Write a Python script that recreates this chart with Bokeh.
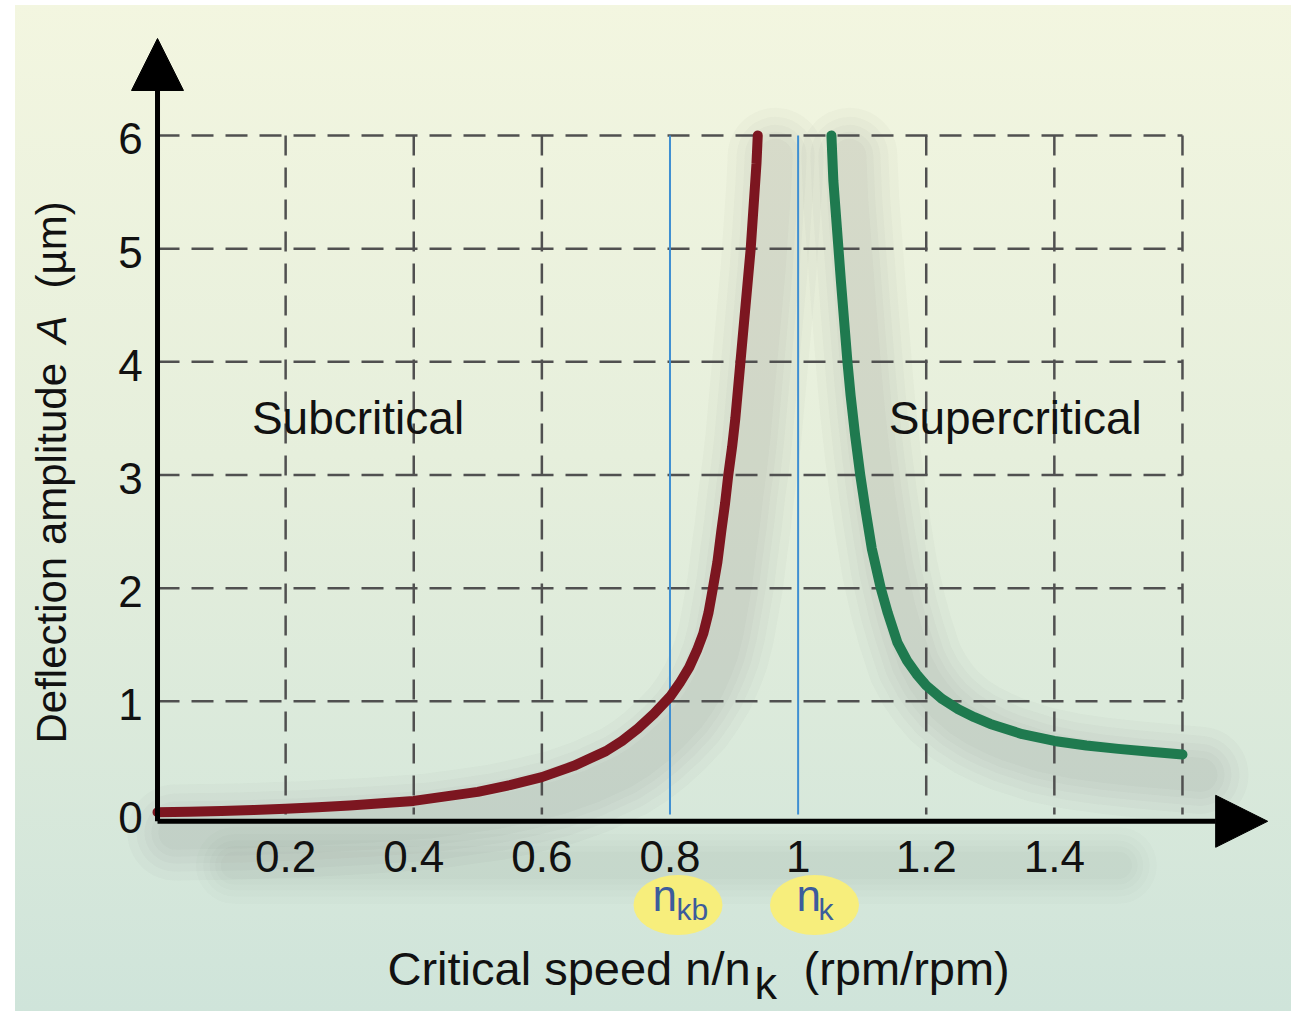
import numpy as np
from bokeh.plotting import figure
from bokeh.models import Arrow, NormalHead, Range1d
from bokeh.core.properties import value
from bokeh.embed import file_html
from bokeh.resources import INLINE

# ---------------- data ----------------
sub_x = [0.0, 0.05, 0.1, 0.15, 0.2, 0.25, 0.3, 0.35, 0.4, 0.45, 0.5, 0.55, 0.6, 0.65,
         0.7, 0.725, 0.75, 0.775, 0.8, 0.815, 0.83, 0.842, 0.852, 0.86, 0.867, 0.874,
         0.880, 0.886, 0.891, 0.897, 0.902, 0.906, 0.910, 0.914, 0.918, 0.922, 0.926,
         0.929, 0.932, 0.935, 0.937]
sub_y = [0.02, 0.025, 0.03, 0.04, 0.05, 0.065, 0.08, 0.1, 0.12, 0.16, 0.2, 0.26, 0.33, 0.43,
         0.56, 0.65, 0.76, 0.89, 1.04, 1.16, 1.3, 1.45, 1.6, 1.78, 2.0, 2.23,
         2.5, 2.75, 3.0, 3.25, 3.5, 3.75, 4.0, 4.25, 4.5, 4.75, 5.0,
         5.25, 5.5, 5.75, 6.0]
sup_x = [1.052, 1.055, 1.059, 1.063, 1.067, 1.072, 1.077, 1.082, 1.089, 1.097, 1.105,
         1.115, 1.129, 1.14, 1.155, 1.17, 1.185, 1.2, 1.225, 1.25, 1.275, 1.3, 1.35,
         1.4, 1.45, 1.5, 1.55, 1.6]
sup_y = [6.0, 5.6, 5.3, 5.0, 4.7, 4.35, 4.0, 3.7, 3.35, 3.0, 2.7,
         2.35, 2.0, 1.78, 1.52, 1.36, 1.24, 1.14, 1.02, 0.93, 0.86, 0.8, 0.71,
         0.65, 0.61, 0.58, 0.555, 0.53]

x_ticks = [0.2, 0.4, 0.6, 0.8, 1.0, 1.2, 1.4]
x_tick_labels = ["0.2", "0.4", "0.6", "0.8", "1", "1.2", "1.4"]
y_ticks = [0, 1, 2, 3, 4, 5, 6]
y_tick_labels = ["0", "1", "2", "3", "4", "5", "6"]
x_grid = [0.2, 0.4, 0.6, 1.2, 1.4, 1.6]
y_grid = [1, 2, 3, 4, 5, 6]
crit_x = [0.8, 1.0]          # n_kb, n_k
crit_labels = [("n", "kb"), ("n", "k")]

X_MAX = 1.6
Y_MAX = 6
FONT = value("Liberation Sans")

# ---------------- figure ----------------
p = figure(width=1291, height=1011,
           x_range=Range1d(-0.2451, 1.7702), y_range=Range1d(-1.7408, 7.1927),
           output_backend="svg", toolbar_location=None,
           x_axis_location=None, y_axis_location=None,
           min_border=0, outline_line_color=None)
p.xgrid.grid_line_color = None
p.ygrid.grid_line_color = None
p.background_fill_alpha = 0
p.border_fill_alpha = 0
p.styles = {"background": "linear-gradient(to right, #ffffff 0px, #ffffff 15px, transparent 15px), "
                          "linear-gradient(to bottom, #ffffff 0px, #ffffff 5px, transparent 5px), "
                          "linear-gradient(to bottom, #f3f6e0 0%, #e6efdc 45%, #cfe4da 100%)"}

# soft shadows
sh = "#3f5548"
for w in [96, 78, 62, 48, 34]:
    p.line([x + 0.028 for x in sub_x], [y - 0.18 for y in sub_y], line_width=w,
           line_color=sh, line_alpha=0.026, line_cap="round", line_join="round")
    p.line([x + 0.028 for x in sup_x], [y - 0.18 for y in sup_y], line_width=w,
           line_color=sh, line_alpha=0.026, line_cap="round", line_join="round")
    p.line([0.12, 1.5], [-0.45, -0.45], line_width=w * 0.8, line_color=sh, line_alpha=0.016,
           line_cap="round")

# grid
p.segment(x0=0, y0=y_grid, x1=X_MAX, y1=y_grid, line_color="#505050",
          line_width=2.5, line_dash="22 12")
p.segment(x0=x_grid, y0=Y_MAX, x1=x_grid, y1=0, line_color="#505050",
          line_width=2.5, line_dash="20 12")
p.segment(x0=crit_x, y0=0, x1=crit_x, y1=Y_MAX, line_color="#3f8fd2", line_width=2)

# axes with arrows
p.add_layout(Arrow(end=NormalHead(size=52, fill_color="black", line_color="black"),
                   x_start=0, y_start=-0.06, x_end=1.733, y_end=-0.06,
                   line_width=5, line_color="black"))
p.add_layout(Arrow(end=NormalHead(size=52, fill_color="black", line_color="black"),
                   x_start=0, y_start=-0.06, x_end=0, y_end=6.857,
                   line_width=5, line_color="black"))

# curves
p.line(sub_x, sub_y, line_color="#7c1620", line_width=10, line_cap="round", line_join="round")
p.line(sup_x, sup_y, line_color="#1f7a4f", line_width=10, line_cap="round", line_join="round")

# tick labels
p.text(x=x_ticks, y=-0.37, text=x_tick_labels, text_font=FONT, text_font_size="44px",
       text_align="center", text_baseline="middle", text_color="#111111")
p.text(x=-0.042, y=[t - 0.03 for t in y_ticks], text=y_tick_labels, text_font=FONT,
       text_font_size="44px", text_align="center", text_baseline="middle", text_color="#111111")

# region labels
p.text(x=[0.313, 1.339], y=3.5, text=["Subcritical", "Supercritical"], text_font=FONT,
       text_font_size="46px", text_align="center", text_baseline="middle", text_color="#111111")

# critical speed markers
p.ellipse(x=[0.8125, 1.0256], y=-0.80, width=89, height=60, width_units="screen",
          height_units="screen", fill_color="#f7ee7c", line_color=None)
p.text(x=[0.7727, 0.9975], y=-0.72, text=[c[0] for c in crit_labels], text_font=FONT,
       text_font_size="44px", text_align="left", text_baseline="alphabetic",
       text_color="#3c5c9c")
p.text(x=[0.810, 1.0318], y=-0.84, text=[c[1] for c in crit_labels], text_font=FONT,
       text_font_size="30px", text_align="left", text_baseline="alphabetic",
       text_color="#3c5c9c")

# axis titles
p.text(x=0.9258, y=-1.36, text=["Critical speed n/n"], text_font=FONT, text_font_size="47px",
       text_align="right", text_baseline="alphabetic", text_color="#111111")
p.text(x=0.932, y=-1.49, text=["k"], text_font=FONT, text_font_size="45px",
       text_align="left", text_baseline="alphabetic", text_color="#111111")
p.text(x=1.0084, y=-1.36, text=["(rpm/rpm)"], text_font=FONT, text_font_size="47px",
       text_align="left", text_baseline="alphabetic", text_color="#111111")

p.text(x=-0.165, y=0.627, text=["Deflection amplitude"], angle=np.pi / 2, text_font=FONT,
       text_font_size="42px", text_align="left", text_baseline="alphabetic", text_color="#111111")
p.text(x=-0.165, y=4.162, text=["A"], angle=np.pi / 2, text_font=FONT, text_font_style="italic",
       text_font_size="42px", text_align="left", text_baseline="alphabetic", text_color="#111111")
p.text(x=-0.165, y=4.648, text=["(µm)"], angle=np.pi / 2, text_font=FONT,
       text_font_size="42px", text_align="left", text_baseline="alphabetic", text_color="#111111")

open("out.html", "w").write(file_html(p, INLINE))
